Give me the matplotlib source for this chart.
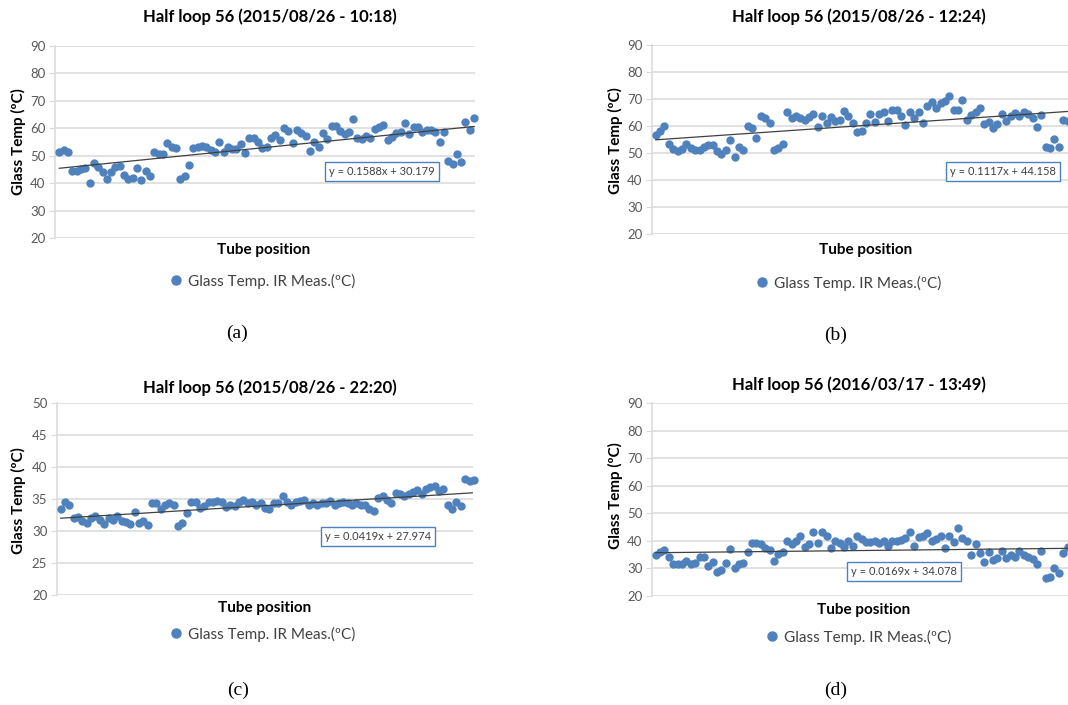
import numpy as np
import matplotlib
matplotlib.use("Agg")
import matplotlib.pyplot as plt
from matplotlib.lines import Line2D

plt.rcParams["font.family"] = ["Lato", "DejaVu Sans"]

W, H = 1068, 705

# glass temperature per tube (ºC), IR measurement
temp_a = [51.2, 52.1, 51.2, 44.5, 44.6, 45.1, 45.6, 40.2, 47.3, 46.0,
          44.1, 41.5, 44.1, 46.0, 46.2, 42.9, 41.5, 41.9, 45.7, 41.3,
          44.4, 42.7, 51.5, 50.5, 50.6, 54.8, 53.3, 52.9, 41.5, 42.6,
          46.6, 52.7, 53.2, 53.7, 53.2, 52.0, 51.5, 55.1, 51.2, 53.3,
          52.4, 52.4, 54.1, 50.9, 56.6, 56.3, 55.1, 52.7, 53.2, 56.6,
          57.6, 55.7, 60.0, 59.0, 54.5, 59.4, 58.4, 57.2, 51.7, 55.1,
          53.2, 58.2, 56.1, 61.0, 60.9, 59.1, 57.8, 58.5, 63.4, 56.6,
          56.1, 57.2, 56.6, 59.8, 60.4, 61.2, 55.7, 56.7, 58.2, 58.8,
          61.8, 57.9, 60.5, 60.4, 58.5, 59.3, 59.5, 58.5, 55.1, 58.5,
          48.2, 47.1, 50.7, 47.8, 62.4, 59.5, 63.9]
temp_b = [56.7, 58.1, 60.1, 53.2, 51.4, 50.7, 51.4, 53.2, 52.0, 51.1,
          51.1, 52.2, 53.0, 53.0, 50.9, 49.5, 51.1, 54.7, 48.6, 52.3,
          51.1, 60.0, 59.4, 55.4, 63.8, 62.8, 61.0, 51.0, 52.0, 53.2,
          65.1, 62.8, 63.7, 62.8, 62.2, 63.2, 64.3, 59.8, 63.8, 61.0,
          63.5, 61.9, 62.2, 65.6, 63.8, 61.0, 57.9, 58.1, 61.0, 64.3,
          61.6, 64.4, 65.1, 62.0, 65.9, 65.9, 63.7, 60.4, 65.3, 62.8,
          65.1, 61.0, 67.4, 68.8, 66.8, 68.5, 69.4, 71.1, 65.9, 65.9,
          69.6, 62.2, 64.1, 65.1, 66.5, 60.7, 61.6, 59.1, 60.9, 64.6,
          62.0, 63.7, 64.9, 63.7, 65.1, 64.3, 63.1, 59.8, 64.1, 52.3,
          52.0, 55.2, 52.1, 62.2, 61.9]
temp_c = [33.4, 34.5, 34.1, 32.0, 32.2, 31.6, 31.2, 32.0, 32.3, 31.7,
          31.1, 32.0, 31.7, 32.3, 31.5, 31.4, 31.1, 33.0, 31.3, 31.6,
          31.0, 34.3, 34.3, 33.5, 34.1, 34.3, 34.1, 30.8, 31.2, 32.8,
          34.5, 34.5, 33.6, 33.9, 34.5, 34.6, 34.7, 34.6, 33.7, 34.1,
          33.9, 34.6, 34.8, 34.3, 34.5, 34.0, 34.4, 33.6, 33.4, 34.3,
          34.3, 35.5, 34.6, 34.1, 34.6, 34.7, 34.9, 34.1, 34.3, 34.0,
          34.3, 34.3, 34.7, 34.1, 34.3, 34.6, 34.3, 34.1, 34.4, 34.1,
          34.0, 33.5, 33.1, 35.1, 35.5, 34.8, 34.3, 36.0, 35.8, 35.5,
          35.8, 36.1, 36.4, 35.8, 36.5, 36.9, 37.1, 36.2, 36.5, 34.1,
          33.5, 34.5, 33.9, 38.1, 37.8, 37.9]
temp_d = [34.7, 36.1, 36.7, 34.3, 31.6, 31.5, 31.5, 32.7, 31.5, 31.9,
          34.1, 34.1, 30.9, 32.2, 28.8, 29.5, 32.1, 37.1, 30.3, 31.5,
          31.9, 35.8, 39.4, 39.4, 38.9, 37.3, 36.7, 32.7, 35.2, 35.9,
          40.1, 38.9, 40.0, 41.6, 37.6, 38.8, 43.2, 39.2, 43.2, 41.9,
          37.3, 40.0, 39.2, 37.7, 39.8, 38.3, 41.9, 40.7, 39.5, 39.5,
          40.0, 39.2, 40.0, 38.3, 39.8, 40.1, 40.4, 41.2, 43.2, 38.3,
          41.3, 41.6, 42.8, 40.0, 40.7, 41.9, 37.3, 41.6, 39.5, 44.8,
          41.2, 40.0, 34.9, 38.9, 35.5, 32.5, 36.1, 33.1, 33.9, 36.4,
          33.9, 34.9, 34.3, 36.4, 34.9, 34.3, 33.3, 31.5, 36.4, 26.7,
          27.0, 30.1, 28.2, 35.5, 37.9]

titles = ["Half loop 56 (2015/08/26 - 10:18)",
          "Half loop 56 (2015/08/26 - 12:24)",
          "Half loop 56 (2015/08/26 - 22:20)",
          "Half loop 56 (2016/03/17 - 13:49)"]
slopes = [0.1588, 0.1117, 0.0419, 0.0169]
intercepts = [30.179, 44.158, 27.974, 34.078]
y_limits = [(20, 90, 10), (20, 90, 10), (20, 50, 5), (20, 90, 10)]
captions = ["(a)", "(b)", "(c)", "(d)"]
first_tube = 96

# layout in pixels
layout = [
    dict(box=(55, 46, 475, 238), xlim=(95.0, 192.2), title=(270, 17),
         ylab=(18, 142), xlab=(264, 250), leg=(262, 281), eq=(382, 171.5), cap=(237, 333)),
    dict(box=(652, 45, 1068, 234), xlim=(95.15, 190.1), title=(859, 17),
         ylab=(615, 141), xlab=(866, 250), leg=(848, 283), eq=(1003, 171.5), cap=(836, 335)),
    dict(box=(57, 403, 473, 595), xlim=(95.15, 190.8), title=(270, 388),
         ylab=(18, 501), xlab=(265, 608), leg=(262, 634), eq=(378, 536.5), cap=(238, 690)),
    dict(box=(652, 403, 1068, 596), xlim=(95.15, 190.1), title=(859, 385),
         ylab=(615, 496), xlab=(864, 610), leg=(858, 637), eq=(904, 571.5), cap=(836, 690)),
]

blue = "#4F81BD"
grid_c = "#D9D9D9"


def fx(px):
    return px / W


def fy(py):
    return 1 - py / H


fig = plt.figure(figsize=(W / 100, H / 100), dpi=100)

for temps, title, m, c, (lo, hi, step), cap, lay in zip(
        [temp_a, temp_b, temp_c, temp_d], titles, slopes, intercepts,
        y_limits, captions, layout):
    l, t, r, b = lay["box"]
    ax = fig.add_axes([fx(l), fy(b), (r - l) / W, (b - t) / H])
    x = np.arange(first_tube, first_tube + len(temps))
    ax.scatter(x, temps, s=36, color=blue, linewidths=0, zorder=3, clip_on=False)
    xt = np.array([x[0], x[-1]])
    ax.plot(xt, m * xt + c, color="#404040", lw=0.9, zorder=4)

    ax.set_xlim(*lay["xlim"])
    ax.set_ylim(lo, hi)
    ax.set_yticks(np.arange(lo, hi + 1, step))
    ax.set_xticks([])
    ax.grid(axis="y", color=grid_c, lw=1.1)
    ax.set_axisbelow(True)
    for s in ["top", "right", "bottom"]:
        ax.spines[s].set_visible(False)
    ax.spines["left"].set_color(grid_c)
    ax.spines["left"].set_linewidth(1.1)
    ax.tick_params(axis="y", length=4, color=grid_c, labelcolor="#595959",
                   labelsize=9.5, pad=3)

    fig.text(fx(lay["title"][0]), fy(lay["title"][1]), title, ha="center",
             va="center", fontsize=12, fontweight="bold")
    fig.text(fx(lay["ylab"][0]), fy(lay["ylab"][1]), "Glass Temp (ºC)",
             rotation=90, ha="center", va="center", fontsize=11, fontweight="bold")
    fig.text(fx(lay["xlab"][0]), fy(lay["xlab"][1]), "Tube position",
             ha="center", va="center", fontsize=11, fontweight="bold")
    fig.text(fx(lay["eq"][0]), fy(lay["eq"][1]), f"y = {m}x + {c}",
             ha="center", va="center", fontsize=8, color="#404040",
             bbox=dict(boxstyle="square,pad=0.35", fc="white", ec=blue, lw=1))
    handle = Line2D([], [], marker="o", ls="", color=blue, markersize=6.5)
    fig.legend([handle], ["Glass Temp. IR Meas.(ºC)"], loc="center",
               bbox_to_anchor=(fx(lay["leg"][0]), fy(lay["leg"][1])),
               frameon=False, fontsize=11, handletextpad=0.3, handlelength=1,
               labelcolor="#404040")
    fig.text(fx(lay["cap"][0]), fy(lay["cap"][1]), cap, ha="center",
             va="center", fontsize=14, family="Liberation Serif")

fig.savefig("out.png", dpi=100)
